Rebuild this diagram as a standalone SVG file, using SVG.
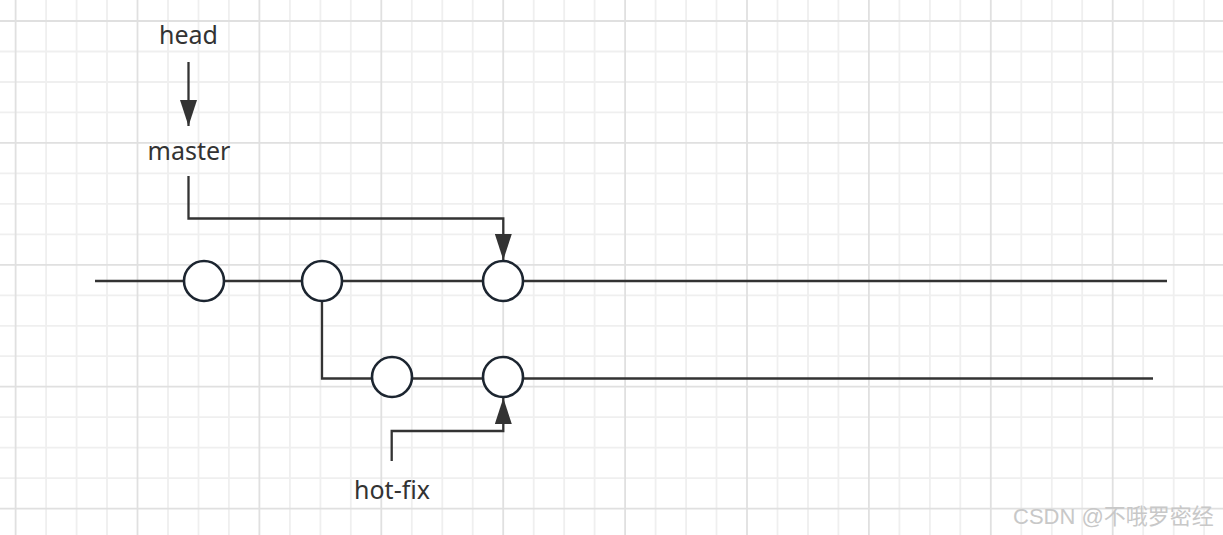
<svg xmlns="http://www.w3.org/2000/svg" width="1223" height="535" viewBox="0 0 1223 535">
  <style>
    .minor { stroke: #efefef; stroke-width: 1.8; fill: none; }
    .major { stroke: #e0e0e0; stroke-width: 1.8; fill: none; }
    .edge { stroke: #333333; stroke-width: 2.3; fill: none; }
    .commit { fill: #ffffff; stroke: #1c2530; stroke-width: 2.6; }
    .label { font-family: "Noto Sans", "Open Sans", sans-serif; font-size: 25px; fill: #333333; text-anchor: middle; }
    .wm { font-family: "Liberation Sans", "Noto Sans CJK SC", sans-serif; font-size: 22px; fill: #c8c8c8; }
  </style>
  <defs>
    <marker id="arr" viewBox="0 0 26 17" refX="26" refY="8.5" markerWidth="26" markerHeight="17" markerUnits="userSpaceOnUse" orient="auto">
      <path d="M0,0 L26,8.5 L0,17 Z" fill="#333333"/>
    </marker>
  </defs>
  <rect width="1223" height="535" fill="#ffffff"/>
  <g id="grid">
    <path class="minor" d="M46.1,0V535 M76.6,0V535 M107,0V535 M168,0V535 M198.5,0V535 M228.9,0V535 M289.9,0V535 M320.4,0V535 M350.8,0V535 M411.8,0V535 M442.3,0V535 M472.7,0V535 M533.7,0V535 M564.2,0V535 M594.6,0V535 M655.6,0V535 M686.1,0V535 M716.5,0V535 M777.5,0V535 M808,0V535 M838.4,0V535 M899.4,0V535 M929.9,0V535 M960.3,0V535 M1021.3,0V535 M1051.8,0V535 M1082.2,0V535 M1143.2,0V535 M1173.7,0V535 M1204.1,0V535
      M0,51.5H1223 M0,82H1223 M0,112.4H1223 M0,173.4H1223 M0,203.9H1223 M0,234.3H1223 M0,295.3H1223 M0,325.8H1223 M0,356.2H1223 M0,417.2H1223 M0,447.7H1223 M0,478.1H1223"/>
    <path class="major" d="M15.6,0V535 M137.5,0V535 M259.4,0V535 M381.3,0V535 M503.2,0V535 M625.1,0V535 M747,0V535 M868.9,0V535 M990.8,0V535 M1112.7,0V535
      M0,21H1223 M0,142.9H1223 M0,264.8H1223 M0,386.7H1223 M0,508.6H1223"/>
  </g>
  <g id="connectors">
    <path id="master-line" class="edge" d="M95,281H1167"/>
    <path id="hotfix-line" class="edge" d="M322,301V378.5H1153"/>
    <path id="head-to-master" class="edge" d="M188.5,62V126" marker-end="url(#arr)"/>
    <path id="master-pointer" class="edge" d="M188.5,176V218.5H503.3V260" marker-end="url(#arr)"/>
    <path id="hotfix-pointer" class="edge" d="M391.7,461V431H503.3V398" marker-end="url(#arr)"/>
  </g>
  <g id="c1"><circle class="commit" cx="204" cy="281" r="20"/></g>
  <g id="c2"><circle class="commit" cx="322" cy="281" r="20"/></g>
  <g id="c3"><circle class="commit" cx="503" cy="281" r="20"/></g>
  <g id="c4"><circle class="commit" cx="392" cy="377" r="20"/></g>
  <g id="c5"><circle class="commit" cx="503" cy="377" r="20"/></g>
  <g id="head"><text class="label" x="188.5" y="44">head</text></g>
  <g id="master"><text class="label" x="189" y="160">master</text></g>
  <g id="hotfix"><text class="label" x="392" y="499">hot-fix</text></g>
  <text class="wm" x="1013" y="524">CSDN @不哦罗密经</text>
</svg>
